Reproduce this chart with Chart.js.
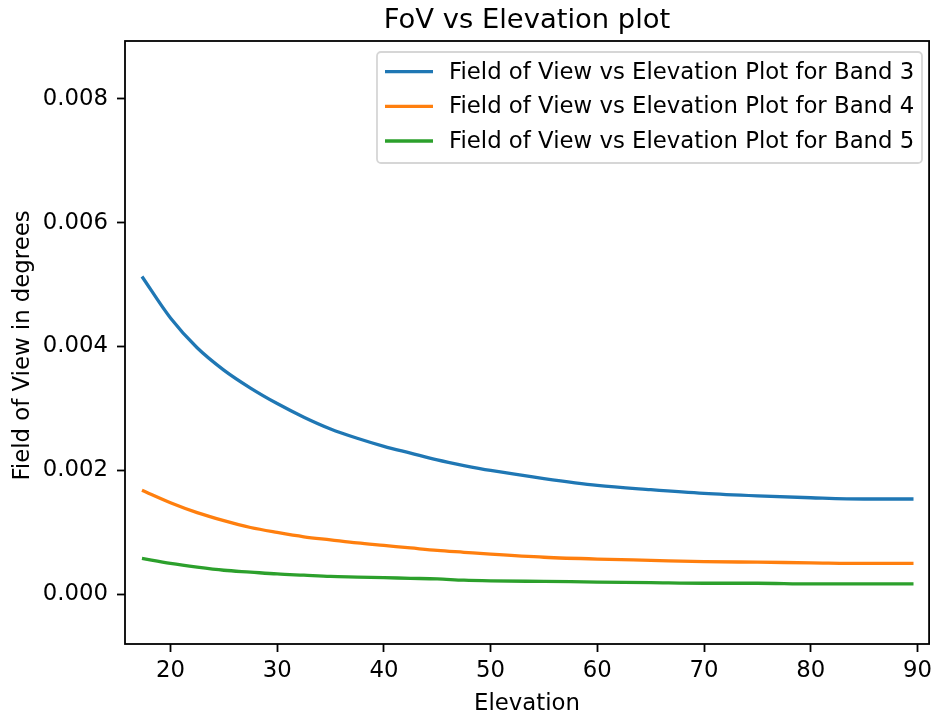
<!DOCTYPE html>
<html>
<head>
<meta charset="utf-8">
<script src="https://cdn.jsdelivr.net/npm/chart.js@4.4.0/dist/chart.umd.min.js"></script>
<style>
  html, body { margin: 0; padding: 0; background: #fff; }
  #wrap { width: 937px; height: 715px; position: relative; }
</style>
</head>
<body>
<div id="wrap"><canvas id="chart"></canvas></div>
<script>
// elevation in degrees (x values)
const elevation = [17.33, 20, 22.5, 25, 27.5, 30, 32.5, 35, 37.5, 40, 42.5, 45, 47.5, 50, 55, 60, 65, 70, 75, 80, 85, 89.63];

// field of view in degrees
const band3 = [0.00513, 0.00446, 0.00398, 0.00362, 0.00333, 0.00308, 0.00286, 0.00267, 0.00252, 0.00239, 0.00228, 0.00217, 0.00208, 0.00200, 0.00187, 0.00176, 0.00169, 0.00163, 0.00159, 0.00156, 0.00154, 0.00154];
const band4 = [0.00168, 0.00148, 0.00132, 0.00119, 0.00108, 0.00100, 0.00093, 0.00088, 0.00083, 0.00079, 0.00075, 0.00071, 0.00068, 0.00065, 0.00060, 0.00057, 0.00055, 0.00053, 0.00052, 0.00051, 0.00050, 0.00050];
const band5 = [0.00058, 0.00050, 0.00044, 0.00039, 0.00036, 0.00033, 0.00031, 0.00029, 0.00028, 0.00027, 0.00026, 0.00025, 0.00023, 0.00022, 0.00021, 0.00020, 0.00019, 0.00018, 0.00018, 0.00017, 0.00017, 0.00017];

const seriesNames = [
  'Field of View vs Elevation Plot for Band 3',
  'Field of View vs Elevation Plot for Band 4',
  'Field of View vs Elevation Plot for Band 5'
];
const seriesColors = ['#1f77b4', '#ff7f0e', '#2ca02c'];

const xTicks = [20, 30, 40, 50, 60, 70, 80, 90];
const yTicks = [0, 0.002, 0.004, 0.006, 0.008];

const FONT = 'DejaVu Sans';
const FS = 22.8;

const toPoints = (ys) => ys.map((y, i) => ({ x: elevation[i], y: y }));

// title, axis labels, frame and legend drawn matplotlib-style
const decorations = {
  id: 'decorations',
  afterDraw(chart) {
    const { ctx, chartArea: a } = chart;
    const cx = (a.left + a.right) / 2;
    ctx.save();
    ctx.fillStyle = '#000';

    ctx.font = `27.4px "${FONT}"`;
    ctx.textAlign = 'center';
    ctx.textBaseline = 'alphabetic';
    ctx.fillText('FoV vs Elevation plot', cx, 28);

    ctx.font = `${FS}px "${FONT}"`;
    ctx.fillText('Elevation', cx, 710);

    ctx.save();
    ctx.translate(29, (a.top + a.bottom) / 2 + 3);
    ctx.rotate(-Math.PI / 2);
    ctx.fillText('Field of View in degrees', 0, 0);
    ctx.restore();

    // frame
    ctx.strokeStyle = '#000';
    ctx.lineWidth = 1.8;
    ctx.strokeRect(a.left, a.top, a.right - a.left, a.bottom - a.top);

    // legend
    const lx = 377, ly = 52, lw = 545, lh = 111;
    ctx.beginPath();
    ctx.roundRect(lx, ly, lw, lh, 4);
    ctx.fillStyle = 'rgba(255,255,255,0.8)';
    ctx.fill();
    ctx.strokeStyle = '#d6d6d6';
    ctx.lineWidth = 1.8;
    ctx.stroke();

    const rows = [71.7, 106.3, 141];
    ctx.textAlign = 'left';
    ctx.textBaseline = 'middle';
    ctx.font = `${FS}px "${FONT}"`;
    chart.data.datasets.forEach((ds, i) => {
      ctx.beginPath();
      ctx.moveTo(385, rows[i]);
      ctx.lineTo(433, rows[i]);
      ctx.strokeStyle = ds.borderColor;
      ctx.lineWidth = 3.3;
      ctx.stroke();
      ctx.fillStyle = '#000';
      ctx.fillText(ds.label, 449, rows[i] + 1);
    });
    ctx.restore();
  }
};

const datasets = [band3, band4, band5].map((ys, i) => ({
  label: seriesNames[i],
  data: toPoints(ys),
  borderColor: seriesColors[i],
  backgroundColor: seriesColors[i],
  borderWidth: 3.3,
  pointRadius: 0,
  cubicInterpolationMode: 'monotone',
  fill: false
}));

new Chart(document.getElementById('chart'), {
  type: 'line',
  data: { datasets: datasets },
  options: {
    responsive: true,
    maintainAspectRatio: false,
    animation: false,
    layout: { padding: { top: 41, right: 3, left: 0, bottom: 0 } },
    plugins: {
      legend: { display: false },
      title: { display: false },
      tooltip: { enabled: false }
    },
    scales: {
      x: {
        type: 'linear',
        min: 15.74,
        max: 91.09,
        afterBuildTicks: (scale) => { scale.ticks = xTicks.map(v => ({ value: v })); },
        afterFit: (scale) => { scale.height = 71; },
        border: { display: false },
        grid: { drawOnChartArea: false, drawTicks: true, tickLength: 8, tickColor: '#000', tickWidth: 1.8 },
        ticks: {
          color: '#000',
          font: { family: FONT, size: FS },
          padding: 5,
          maxRotation: 0,
          callback: (v) => String(v)
        }
      },
      y: {
        type: 'linear',
        min: -0.0008,
        max: 0.00893,
        afterBuildTicks: (scale) => { scale.ticks = yTicks.map(v => ({ value: v })); },
        afterFit: (scale) => { scale.width = 125; },
        border: { display: false },
        grid: { drawOnChartArea: false, drawTicks: true, tickLength: 8, tickColor: '#000', tickWidth: 1.8 },
        ticks: {
          color: '#000',
          font: { family: FONT, size: FS },
          padding: 9,
          callback: (v) => v.toFixed(3)
        }
      }
    }
  },
  plugins: [decorations]
});
</script>
</body>
</html>
